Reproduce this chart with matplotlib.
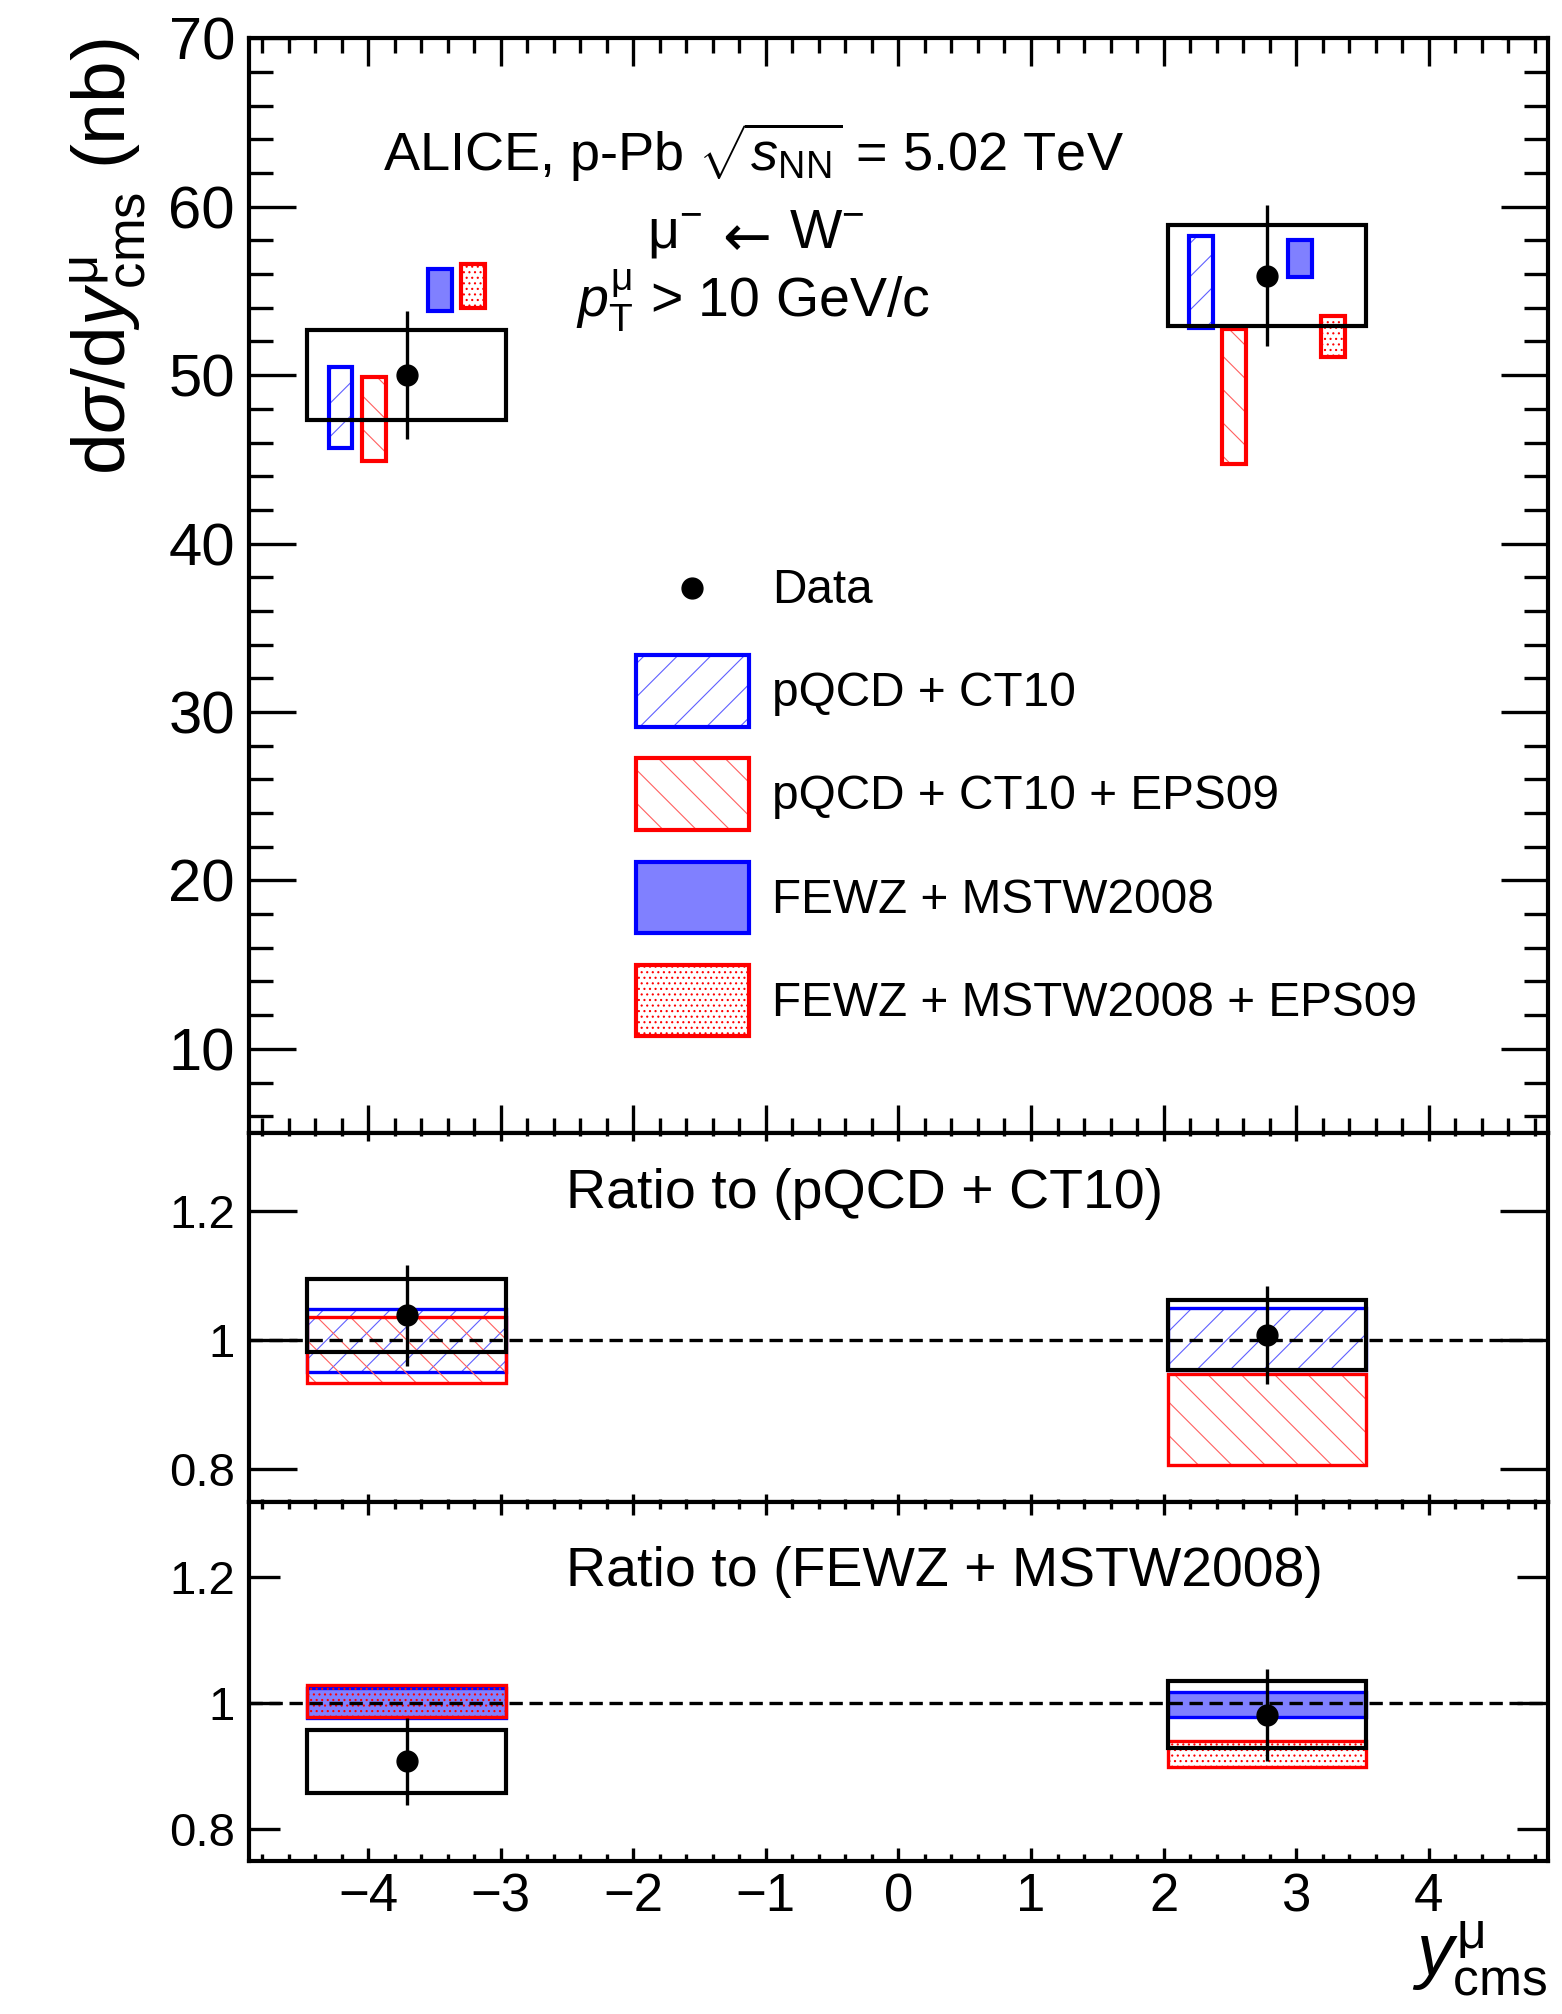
import matplotlib
matplotlib.use('Agg')
import matplotlib.pyplot as plt
from matplotlib.ticker import MultipleLocator, FixedLocator, FuncFormatter
from matplotlib.lines import Line2D
from matplotlib.patches import Patch
from matplotlib.legend_handler import HandlerLine2D
import numpy as np

plt.rcParams['font.family'] = ['Liberation Sans', 'DejaVu Sans']
plt.rcParams['mathtext.fontset'] = 'custom'
plt.rcParams['mathtext.rm'] = 'Liberation Sans'
plt.rcParams['mathtext.it'] = 'Liberation Sans:italic'
plt.rcParams['mathtext.bf'] = 'Liberation Sans:bold'
plt.rcParams['mathtext.sf'] = 'Liberation Sans'
plt.rcParams['hatch.linewidth'] = 0.8

# ---------------- data ----------------
bin_lo = np.array([-4.46, 2.03])
bin_hi = np.array([-2.96, 3.53])
bin_center = (bin_lo + bin_hi) / 2

# cross section (nb)
xsec = np.array([50.0, 55.9])
xsec_stat = np.array([3.8, 4.2])
xsec_sys = np.array([2.68, 3.0])

# model predictions (low, high)
ct10_lo = np.array([45.7, 52.8])
ct10_hi = np.array([50.5, 58.25])
ct10eps_lo = np.array([44.9, 44.7])
ct10eps_hi = np.array([49.9, 52.74])
fewz_lo = np.array([53.8, 55.8])
fewz_hi = np.array([56.3, 58.05])
fewzeps_lo = np.array([54.0, 51.1])
fewzeps_hi = np.array([56.6, 53.5])
model_shift = [-0.5, -0.25, 0.25, 0.5]
model_width = 0.18

# ratio to pQCD + CT10
r1 = np.array([1.038, 1.008])
r1_stat = np.array([0.078, 0.076])
r1_sys = np.array([0.056, 0.054])
r1_ct10_lo = np.array([0.951, 0.953])
r1_ct10_hi = np.array([1.048, 1.049])
r1_eps_lo = np.array([0.934, 0.806])
r1_eps_hi = np.array([1.035, 0.948])

# ratio to FEWZ + MSTW2008
r2 = np.array([0.908, 0.982])
r2_stat = np.array([0.069, 0.073])
r2_sys = np.array([0.050, 0.053])
r2_fewz_lo = np.array([0.976, 0.979])
r2_fewz_hi = np.array([1.024, 1.018])
r2_eps_lo = np.array([0.979, 0.899])
r2_eps_hi = np.array([1.029, 0.940])

legend_labels = ['Data', 'pQCD + CT10', 'pQCD + CT10 + EPS09',
                 'FEWZ + MSTW2008', 'FEWZ + MSTW2008 + EPS09']

# ---------------- styles ----------------
BLUE = '#0000ff'
RED = '#ff0000'
BLUE_HATCH = '#6060ff'
RED_HATCH = '#ff6060'
BLUE_FILL = '#8080ff'

fig = plt.figure(figsize=(15.62, 20.14), dpi=100)
L, W = 0.1594, 0.8316
ax1 = fig.add_axes([L, 0.4374, W, 0.5436])
ax2 = fig.add_axes([L, 0.2544, W, 0.1831])
ax3 = fig.add_axes([L, 0.0760, W, 0.1784])

for ax in (ax1, ax2, ax3):
    ax.set_xlim(-4.9, 4.9)
    ax.xaxis.set_major_locator(MultipleLocator(1))
    ax.xaxis.set_minor_locator(MultipleLocator(0.2))
    for s in ax.spines.values():
        s.set_linewidth(3)
    ax.tick_params(which='both', direction='in', top=True, right=True, width=2.4)


def hatched_bar(ax, x, lo, hi, w, hatch, hcol, ecol, lw, z, face='none'):
    ax.bar(x, hi - lo, bottom=lo, width=w, color=face, edgecolor=hcol,
           hatch=hatch, linewidth=0, zorder=z)
    ax.bar(x, hi - lo, bottom=lo, width=w, fill=False, edgecolor=ecol,
           linewidth=lw, zorder=z + 0.1)


def data_points(ax, x, xl, xh, y, stat, sys):
    ax.bar(x, 2 * sys, bottom=y - sys, width=xh - xl, fill=False,
           edgecolor='k', linewidth=3, zorder=5)
    ax.errorbar(x, y, yerr=stat, fmt='o', color='k', ms=15,
                elinewidth=2.4, capsize=0, zorder=7)


class CenteredMarkerHandler(HandlerLine2D):
    def create_artists(self, legend, orig_handle, xdescent, ydescent,
                       width, height, fontsize, trans):
        arts = super().create_artists(legend, orig_handle, xdescent, ydescent,
                                      width, height, fontsize, trans)
        for a in arts:
            yd = np.asarray(a.get_ydata(), dtype=float)
            a.set_ydata(np.full_like(yd, height / 2 - ydescent))
        return arts


# ---------------- top panel ----------------
ax1.set_ylim(5, 70)
ax1.yaxis.set_major_locator(MultipleLocator(10))
ax1.yaxis.set_minor_locator(MultipleLocator(2))
ax1.tick_params(axis='x', which='major', length=20, labelbottom=False)
ax1.tick_params(axis='x', which='minor', length=11)
ax1.tick_params(axis='y', which='major', length=34, labelsize=43, pad=10)
ax1.tick_params(axis='y', which='minor', length=17)

hatched_bar(ax1, bin_center + model_shift[0], ct10_lo, ct10_hi, model_width,
            '/', BLUE_HATCH, BLUE, 3, 2)
hatched_bar(ax1, bin_center + model_shift[1], ct10eps_lo, ct10eps_hi, model_width,
            '\\', RED_HATCH, RED, 3, 2)
ax1.bar(bin_center + model_shift[2], fewz_hi - fewz_lo, bottom=fewz_lo,
        width=model_width, color=BLUE_FILL, edgecolor=BLUE, linewidth=3, zorder=2)
hatched_bar(ax1, bin_center + model_shift[3], fewzeps_lo, fewzeps_hi, model_width,
            '...', RED, RED, 3, 2, face='white')
data_points(ax1, bin_center, bin_lo, bin_hi, xsec, xsec_stat, xsec_sys)

# legend
h_data = Line2D([], [], marker='o', color='k', ls='none', ms=15)
h_ct10 = (Patch(facecolor='none', edgecolor=BLUE_HATCH, hatch='/', lw=0),
          Patch(fill=False, edgecolor=BLUE, lw=3))
h_ct10eps = (Patch(facecolor='none', edgecolor=RED_HATCH, hatch='\\', lw=0),
             Patch(fill=False, edgecolor=RED, lw=3))
h_fewz = Patch(facecolor=BLUE_FILL, edgecolor=BLUE, lw=3)
h_fewzeps = (Patch(facecolor='white', edgecolor=RED, hatch='...', lw=0),
             Patch(fill=False, edgecolor=RED, lw=3))
leg = ax1.legend([h_data, h_ct10, h_ct10eps, h_fewz, h_fewzeps], legend_labels,
                 handler_map={h_data: CenteredMarkerHandler()},
                 loc='upper left', bbox_to_anchor=(0.298, 0.5307), frameon=False,
                 fontsize=34.4, handlelength=2.36, handleheight=1.93,
                 handletextpad=0.48, labelspacing=0.66, borderpad=0,
                 borderaxespad=0)

# texts
fig.text(753 / 1562, 1 - 171 / 2014,
         r'ALICE, p-Pb $\sqrt{s_{\mathrm{NN}}}$ = 5.02 TeV',
         ha='center', va='baseline', fontsize=39)
fig.text(647 / 1562, 1 - 248 / 2014, r'$\mathrm{\mu}^{-}$',
         ha='left', va='baseline', fontsize=40)
fig.text(747 / 1562, 1 - 256 / 2014, '←', family=['DejaVu Sans'],
         ha='center', va='baseline', fontsize=42)
fig.text(789 / 1562, 1 - 248 / 2014, r'$\mathrm{W}^{-}$',
         ha='left', va='baseline', fontsize=40)
fig.text(753 / 1562, 1 - 317 / 2014,
         r'$p_{\mathrm{T}}^{\mathrm{\mu}}$ > 10 GeV/c',
         ha='center', va='baseline', fontsize=40)
fig.text(109 / 1562, 0.981,
         r'd$\sigma$/d$y^{\mathrm{\mu}}_{\mathrm{cms}}$ (nb)',
         rotation=90, ha='center', va='top', fontsize=54)

# ---------------- ratio panels ----------------
fmt = FuncFormatter(lambda v, p: '%g' % round(v, 2))
for ax, ylen, xmaj, xmin in ((ax2, 34.5, 6, 2.5), (ax3, 22, 9.5, 5)):
    ax.set_ylim(0.75, 1.32)
    ax.yaxis.set_major_locator(FixedLocator([0.8, 1.0, 1.2]))
    ax.yaxis.set_major_formatter(fmt)
    ax.tick_params(axis='y', which='major', length=ylen, labelsize=34, pad=10)
    ax.tick_params(axis='x', which='major', length=xmaj)
    ax.tick_params(axis='x', which='minor', length=xmin)
    ax.axhline(1.0, color='k', ls=(0, (4, 2)), lw=2.4, zorder=6)

ax2.tick_params(axis='x', labelbottom=False)
ax3.tick_params(axis='x', labelsize=38, pad=8)

width_bins = bin_hi - bin_lo
hatched_bar(ax2, bin_center, r1_ct10_lo, r1_ct10_hi, width_bins,
            '/', BLUE_HATCH, BLUE, 2.4, 2)
hatched_bar(ax2, bin_center, r1_eps_lo, r1_eps_hi, width_bins,
            '\\', RED_HATCH, RED, 2.4, 3)
data_points(ax2, bin_center, bin_lo, bin_hi, r1, r1_stat, r1_sys)

ax3.bar(bin_center, r2_fewz_hi - r2_fewz_lo, bottom=r2_fewz_lo, width=width_bins,
        color=BLUE_FILL, edgecolor=BLUE, linewidth=2.4, zorder=2)
hatched_bar(ax3, bin_center, r2_eps_lo, r2_eps_hi, width_bins,
            '...', RED, RED, 2.4, 3, face='none')
data_points(ax3, bin_center, bin_lo, bin_hi, r2, r2_stat, r2_sys)

fig.text(566.5 / 1562, 1 - 1207.5 / 2014, 'Ratio to (pQCD + CT10)',
         ha='left', va='baseline', fontsize=40)
fig.text(566.5 / 1562, 1 - 1586 / 2014, 'Ratio to (FEWZ + MSTW2008)',
         ha='left', va='baseline', fontsize=40)

fig.text(1548 / 1562, 1 - 1919 / 2014, r'$y^{\mathrm{\mu}}_{\mathrm{cms}}$',
         ha='right', va='top', fontsize=53)

fig.savefig('out.png', dpi=100)
